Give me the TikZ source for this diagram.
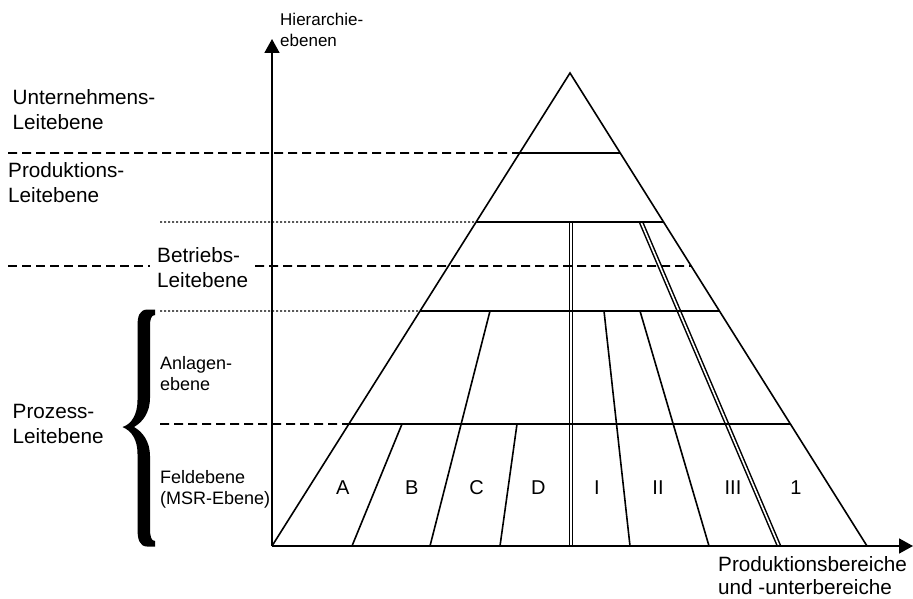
\documentclass[tikz,border=0pt]{standalone}
\usepackage{fontspec}
\setmainfont{Liberation Sans}
\usetikzlibrary{arrows.meta,calc}
\begin{document}
\begin{tikzpicture}[x=1pt,y=-1pt,
  edge/.style={line width=1.6pt},
  sep/.style={line width=1.7pt, dash pattern=on 9pt off 5pt},
  fine/.style={line width=1.2pt, dash pattern=on 2pt off 2pt},
  twin/.style={double, line width=1.5pt, double distance=1.6pt},
  axis/.style={line width=1.7pt, -{Triangle[length=14pt,width=15pt]}},
  lbl/.style={anchor=base west, inner sep=0pt, font=\fontsize{20.7}{25}\selectfont},
  sml/.style={anchor=base west, inner sep=0pt, font=\fontsize{18}{21}\selectfont},
  area/.style={anchor=base, inner sep=0pt, font=\fontsize{20}{24}\selectfont}]
\useasboundingbox (0,0) rectangle (913,599);

% pyramid corners
\coordinate (apex) at (570,73);
\coordinate (bl) at (272,546);
\coordinate (br) at (867,546);

% level boundaries on the left and right flanks
\foreach \n/\y in {a/153, b/222, c/266, d/311, e/424} {
  \coordinate (L\n) at ($(apex)!{(\y-73)/473}!(bl)$);
  \coordinate (R\n) at ($(apex)!{(\y-73)/473}!(br)$);
}

% double separators between production areas
\draw[twin] (571,222) coordinate (vt) -- (571,546) coordinate (vb);
\draw[twin] (641,222) coordinate (st) -- (779,546) coordinate (sb);

% pyramid outline and level lines
\draw[edge] (bl) -- (apex) -- (br);
\draw[edge] (La) -- (Ra);
\draw[edge] (Lb) -- (Rb);
\draw[edge] (Ld) -- (Rd);
\draw[edge] (Le) -- (Re);

% subdivisions of the lower levels
\draw[edge] (402,424) -- (352,546);
\draw[edge] (490,311) -- (430,546);
\draw[edge] (517,424) -- (500,546);
\draw[edge] (604,311) -- (630,546);
\draw[edge] (640,311) -- (709,546);

% level separators outside the pyramid
\draw[sep] (8,153) coordinate (da) -- (La);
\draw[fine] (160,222) coordinate (db) -- (Lb);
\draw[sep] (8,266) coordinate (dc1) -- (150,266) coordinate (dc2);
\draw[sep] (255,266) coordinate (dc3) -- (Rc);
\draw[fine] (160,311) coordinate (dd) -- (Ld);
\draw[sep] (160,424) coordinate (de) -- (Le);

% axes
\coordinate (origin) at (272,546);
\coordinate (ytip) at (272,39);
\coordinate (xtip) at (913,546);
\draw[axis] (origin) -- (ytip);
\draw[axis] (origin) -- (xtip);

% brace grouping the process levels
\fill (155,309.5) -- (147,309.5)
  .. controls (139.5,310) and (137.5,316) .. (137.5,326) -- (137.5,400)
  .. controls (137.5,414) and (132,424) .. (122.5,427)
  .. controls (132,431) and (137.5,440) .. (137.5,454) -- (137.5,529)
  .. controls (137.5,539) and (139.5,546.5) .. (147,546.5) -- (155,546.5) -- (155,541)
  .. controls (151,541) and (150,536) .. (150,528) -- (150,456)
  .. controls (150,442) and (143,432) .. (134,427)
  .. controls (143,422) and (150,412) .. (150,398) -- (150,326)
  .. controls (150,320) and (151,315) .. (155,315) -- cycle;

% axis labels
\node[anchor=base west, inner sep=0pt, font=\fontsize{17}{21}\selectfont] (hy1) at (280,26) {Hierarchie-};
\node[anchor=base west, inner sep=0pt, font=\fontsize{17}{21}\selectfont] (hy2) at (280,47) {ebenen};
\node[lbl] (hx1) at (718,571) {Produktionsbereiche};
\node[lbl] (hx2) at (718,594) {und -unterbereiche};

% level labels
\node[lbl] (u1) at (12.5,105) {Unternehmens-};
\node[lbl] (u2) at (12.5,130) {Leitebene};
\node[lbl] (p1) at (8,177) {Produktions-};
\node[lbl] (p2) at (8,202) {Leitebene};
\node[lbl] (b1) at (157,262) {Betriebs-};
\node[lbl] (b2) at (157,287) {Leitebene};
\node[lbl] (z1) at (12.5,418) {Prozess-};
\node[lbl] (z2) at (12.5,443) {Leitebene};
\node[sml] (an1) at (160,369) {Anlagen-};
\node[sml] (an2) at (160,390) {ebene};
\node[sml] (f1) at (160,483) {Feldebene};
\node[sml] (f2) at (160,504) {(MSR-Ebene)};

% production areas
\node[area] (A) at (342.7,494) {A};
\node[area] (B) at (411.7,494) {B};
\node[area] (C) at (476.7,494) {C};
\node[area] (D) at (538.3,494) {D};
\node[area] (I) at (597,494) {I};
\node[area] (II) at (658,494) {II};
\node[area] (III) at (733,494) {III};
\node[area] (one) at (796,494) {1};
\end{tikzpicture}
\end{document}
